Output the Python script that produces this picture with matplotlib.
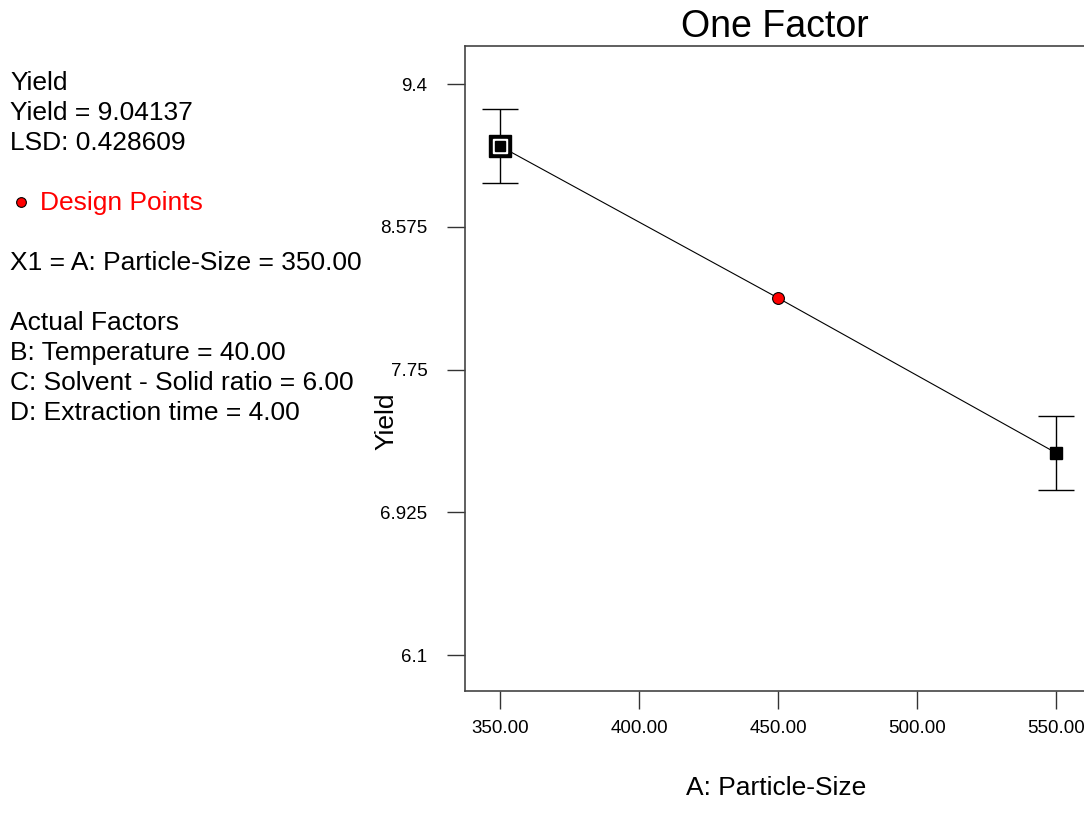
import matplotlib
matplotlib.use("Agg")
import matplotlib.pyplot as plt

plt.rcParams['font.family'] = ['Liberation Sans', 'DejaVu Sans']

# data
particle_size = [350.0, 450.0, 550.0]
yield_pred = [9.04137, 8.163, 7.267]
lsd = 0.428609
bar_x = [350.0, 550.0]
bar_y = [9.04137, 7.267]
xticks = [350, 400, 450, 500, 550]
xtick_labels = ["350.00", "400.00", "450.00", "500.00", "550.00"]
yticks = [6.1, 6.925, 7.75, 8.575, 9.4]
ytick_labels = ["6.1", "6.925", "7.75", "8.575", "9.4"]

info_lines = ["Yield", "Yield = 9.04137", "LSD: 0.428609"]
factor_line = "X1 = A: Particle-Size = 350.00"
actual_lines = ["Actual Factors", "B: Temperature = 40.00",
                "C: Solvent - Solid ratio = 6.00", "D: Extraction time = 4.00"]

W, H = 1084, 825
fig = plt.figure(figsize=(W / 100, H / 100), dpi=100)
ax = fig.add_axes([465 / W, 1 - 691 / H, 622 / W, 645 / H])

# prediction line
ax.plot(particle_size, yield_pred, color='black', lw=0.8, zorder=2)

# LSD bars
ax.errorbar(bar_x, bar_y, yerr=lsd / 2, fmt='none', ecolor='black',
            elinewidth=1.0, capsize=13, capthick=1.0, zorder=3)

# markers
ax.plot(350, yield_pred[0], 's', ms=16, color='black', zorder=4)
ax.plot(350, yield_pred[0], 's', ms=10.5, color='white', zorder=5)
ax.plot(350, yield_pred[0], 's', ms=7, color='black', zorder=6)
ax.plot(550, yield_pred[2], 's', ms=9, color='black', zorder=4)
ax.plot(450, yield_pred[1], 'o', ms=8.5, mfc='red', mec='black', mew=0.8, zorder=4)

ax.set_xlim(337.4, 561.0)
ax.set_ylim(5.892, 9.62)
ax.set_xticks(xticks)
ax.set_xticklabels(xtick_labels)
ax.set_yticks(yticks)
ax.set_yticklabels(ytick_labels)
ax.tick_params(direction='out', length=13, width=1, color='#333333',
               labelsize=13.5)
ax.tick_params(axis='x', pad=8)
ax.tick_params(axis='y', pad=14)
for s in ['left', 'bottom', 'top']:
    ax.spines[s].set_color('#444444')
    ax.spines[s].set_linewidth(1.2)
ax.spines['right'].set_visible(False)

ax.set_xlabel("A: Particle-Size", fontsize=19)
ax.xaxis.set_label_coords(0.5, (691 - 776) / 645)
ax.set_ylabel("Yield", fontsize=19)
ax.yaxis.set_label_coords((398 - 465) / 622, (691 - 421) / 645)

fig.text(775 / W, 1 - 27 / H, "One Factor", fontsize=27,
         ha='center', va='center')

# left side annotation
def put(y, s, **kw):
    fig.text(10 / W, 1 - y / H, s, fontsize=19, ha='left', va='center', **kw)

for i, s in enumerate(info_lines):
    put(83 + i * 30, s)
fig.lines.append(plt.Line2D([21 / W], [1 - 202 / H], marker='o', ms=7,
                            mfc='red', mec='black', mew=0.8,
                            transform=fig.transFigure))
fig.text(40 / W, 1 - 203 / H, "Design Points", fontsize=19, color='red',
         ha='left', va='center')
put(263, factor_line)
for i, s in enumerate(actual_lines):
    put(323 + i * 30, s)

fig.savefig("out.png", dpi=100)
